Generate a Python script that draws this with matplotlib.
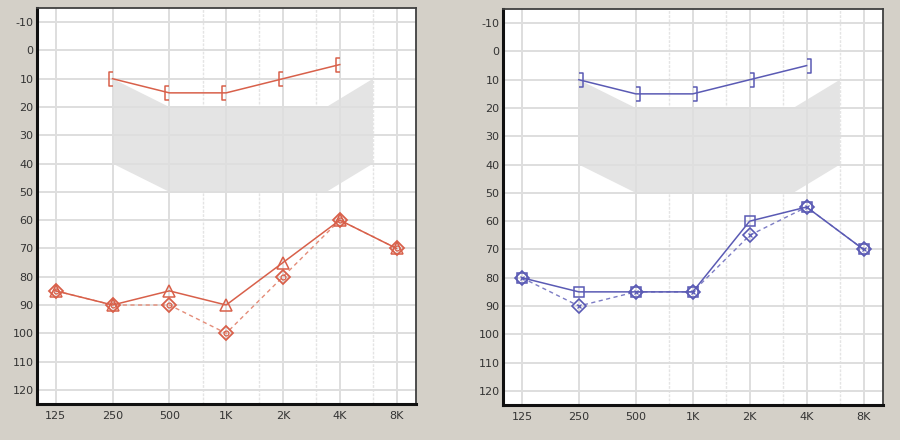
import numpy as np
import matplotlib.pyplot as plt
from matplotlib.path import Path

freqs = [125, 250, 500, 1000, 2000, 4000, 8000]
freq_labels = ['125', '250', '500', '1K', '2K', '4K', '8K']
minor_freqs = [750, 1500, 3000, 6000]
db_ticks = list(range(-10, 130, 10))

bone_freqs = [250, 500, 1000, 2000, 4000]
left_bone = [10, 15, 15, 10, 5]
right_bone = [10, 15, 15, 10, 5]

left_air = [85, 90, 85, 90, 75, 60, 70]
left_masked = [85, 90, 90, 100, 80, 60, 70]
right_air = [80, 85, 85, 85, 60, 55, 70]
right_masked = [80, 90, 85, 85, 65, 55, 70]

# zona grigia (banana)
zone_freqs = [250, 500, 3400, 6000, 6000, 3400, 500, 250]
zone_db = [10, 20, 20, 10, 40, 50, 50, 40]

RED = '#d8604a'
RED_LIGHT = '#e48c78'
BLUE = '#5a5ab4'
BLUE_LIGHT = '#7c7cc4'

left_br = Path([(0.0, 0.5), (-0.32, 0.5), (-0.32, -0.5), (0.0, -0.5)],
               [Path.MOVETO, Path.LINETO, Path.LINETO, Path.LINETO])
right_br = Path([(0.0, 0.5), (0.32, 0.5), (0.32, -0.5), (0.0, -0.5)],
                [Path.MOVETO, Path.LINETO, Path.LINETO, Path.LINETO])


def setup_axes(ax):
    ax.set_facecolor('white')
    ax.set_xscale('log', base=2)
    ax.set_xlim(125 * 2 ** -0.33, 8000 * 2 ** 0.34)
    ax.set_ylim(125, -15)
    ax.set_xticks(freqs)
    ax.set_xticklabels(freq_labels)
    ax.set_xticks(minor_freqs, minor=True)
    ax.set_xticklabels([], minor=True)
    ax.set_yticks(db_ticks)
    ax.set_yticklabels([str(v) for v in db_ticks])
    ax.tick_params(which='both', length=0, labelsize=8, colors='#333333')
    ax.tick_params(axis='y', pad=2.5)
    ax.tick_params(axis='x', pad=5)
    ax.set_axisbelow(True)
    ax.grid(True, which='major', color='#dedede', lw=1.4)
    ax.grid(True, which='minor', axis='x', color='#e4e4e4', lw=1.0, ls=(0, (2, 1)))
    ax.fill(zone_freqs, zone_db, color='#e4e4e4', lw=0, zorder=0.2)
    for s in ['left', 'bottom']:
        ax.spines[s].set_color('#101010')
        ax.spines[s].set_linewidth(2.2)
    for s in ['top', 'right']:
        ax.spines[s].set_color('#404040')
        ax.spines[s].set_linewidth(1.3)


fig = plt.figure(figsize=(9, 4.4), dpi=100)
fig.patch.set_facecolor('#d4d0c8')

axL = fig.add_axes([0.0411, 0.0818, 0.421, 0.9])
axR = fig.add_axes([0.559, 0.0795, 0.422, 0.9])
setup_axes(axL)
setup_axes(axR)

# --- sinistra (rosso) ---
axL.plot(bone_freqs, left_bone, color=RED, lw=1.1, marker=left_br,
         ms=9.5, mew=1.1, mfc='none', zorder=3)
axL.plot(freqs, left_masked, color=RED_LIGHT, lw=1.0, ls=(0, (3, 2.5)),
         marker='D', ms=7, mew=1.3, mfc='none', mec=RED, zorder=3)
axL.plot(freqs, left_masked, ls='none', marker='o', ms=3.5, mew=0.9,
         mfc='none', mec=RED, zorder=3)
axL.plot(freqs, left_air, color=RED, lw=1.1, marker='^', ms=8.5, mew=1.1,
         mfc='none', zorder=4)

# --- destra (blu) ---
axR.plot(bone_freqs, right_bone, color=BLUE, lw=1.1, marker=right_br,
         ms=9.5, mew=1.1, mfc='none', zorder=3)
axR.plot(freqs, right_masked, color=BLUE_LIGHT, lw=1.0, ls=(0, (3, 2.5)),
         marker='D', ms=7, mew=1.2, mfc='none', mec=BLUE, zorder=3)
axR.plot(freqs, right_masked, ls='none', marker='x', ms=3.5, mew=0.9,
         mec=BLUE, zorder=3)
axR.plot(freqs, right_air, color=BLUE, lw=1.1, marker='s', ms=7, mew=1.1,
         mfc='none', zorder=4)

fig.savefig('out.png', dpi=100, facecolor=fig.get_facecolor())
